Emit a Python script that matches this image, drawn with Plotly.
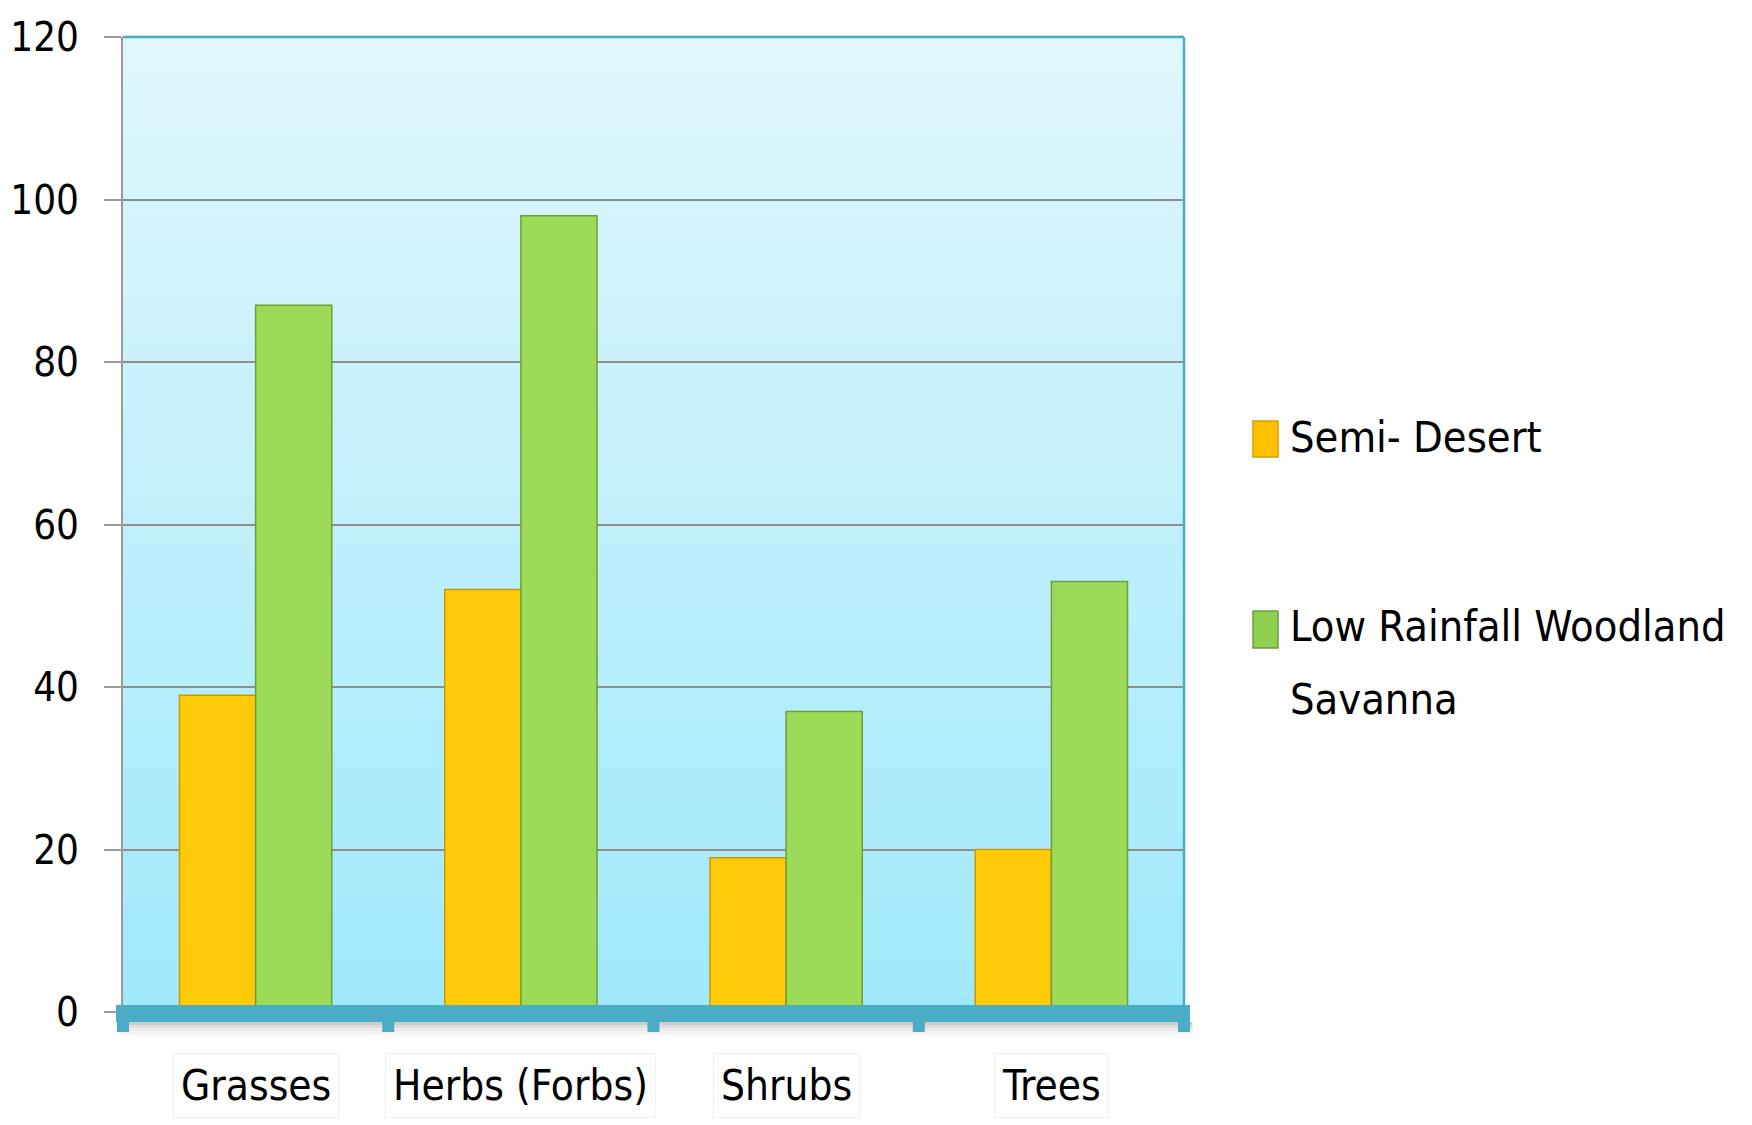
import plotly.graph_objects as go

categories = ["Grasses", "Herbs (Forbs)", "Shrubs", "Trees"]
semi_desert = [39, 52, 19, 20]
low_rainfall = [87, 98, 37, 53]
series_names = ["Semi- Desert", "Low Rainfall Woodland Savanna"]
y_ticks = [0, 20, 40, 60, 80, 100, 120]

FONT = "DejaVu Sans Condensed, DejaVu Sans, sans-serif"
TEAL = "#4BACC6"

def fnt(size):
    return dict(family=FONT, size=size, color="black")

fig = go.Figure()
fig.add_trace(go.Bar(
    x=categories, y=semi_desert, name=series_names[0],
    marker=dict(color="#FFCA08", line=dict(color="#C99A00", width=1.5)),
    showlegend=False,
))
fig.add_trace(go.Bar(
    x=categories, y=low_rainfall, name=series_names[1],
    marker=dict(color="#9CDB57", line=dict(color="#6E9E38", width=1.5)),
    showlegend=False,
))

shapes = []
# background gradient
n = 60
top_c = (224, 247, 253)
bot_c = (160, 233, 251)
for i in range(n):
    t = i / (n - 1)
    c = tuple(int(round(bot_c[k] + (top_c[k] - bot_c[k]) * t)) for k in range(3))
    shapes.append(dict(type="rect", xref="paper", yref="paper",
                       x0=0, x1=1, y0=i / n, y1=(i + 1) / n + 0.002,
                       fillcolor="rgb(%d,%d,%d)" % c, line=dict(width=0), layer="below"))
# top and right borders
shapes.append(dict(type="line", xref="paper", yref="paper", x0=0, x1=1, y0=1, y1=1,
                   line=dict(color=TEAL, width=2.5), layer="above"))
shapes.append(dict(type="line", xref="paper", yref="paper", x0=1, x1=1, y0=0, y1=1,
                   line=dict(color=TEAL, width=2.5), layer="above"))
# shadow under the base band
for k, a in enumerate([0.20, 0.13, 0.08, 0.05, 0.02]):
    shapes.append(dict(type="rect", xref="paper", yref="paper", x0=-0.004, x1=1.008,
                       ysizemode="pixel", yanchor=0, y0=-10 - 3 * (k + 1), y1=-10 - 3 * k,
                       fillcolor="rgba(0,0,0,%.2f)" % a, line=dict(width=0), layer="above"))
# base band (x axis)
shapes.append(dict(type="rect", xref="paper", yref="paper", x0=-0.0066, x1=1.0057,
                   ysizemode="pixel", yanchor=0, y0=-10, y1=7,
                   fillcolor=TEAL, line=dict(width=0), layer="above"))
# category boundary ticks
nc = len(categories)
for i in range(nc + 1):
    shapes.append(dict(type="rect", xref="paper", yref="paper",
                       xsizemode="pixel", xanchor=i / nc, x0=-6, x1=6,
                       ysizemode="pixel", yanchor=0, y0=-20, y1=0,
                       fillcolor=TEAL, line=dict(width=0), layer="above"))

annotations = []
# category labels with white boxes
for c in categories:
    annotations.append(dict(x=c, xref="x", y=0, yref="paper", yanchor="top",
                            yshift=-41, text=c, showarrow=False,
                            font=fnt(42),
                            bgcolor="white", borderpad=7,
                            bordercolor="rgba(0,0,0,0.06)", borderwidth=1))

# manual legend
ph = 1012 - 37
pw = 1184 - 123
def py(p):
    return (1012 - p) / ph
def px(p):
    return (p - 123) / pw
leg_colors = [("#FFC000", "#D9A000"), ("#8FD14F", "#6E9E38")]
leg_y = [(421, 457), (611, 648)]
for (fc, lc), (ya, yb) in zip(leg_colors, leg_y):
    shapes.append(dict(type="rect", xref="paper", yref="paper",
                       x0=px(1253), x1=px(1278), y0=py(yb), y1=py(ya),
                       fillcolor=fc, line=dict(color=lc, width=1.5)))
first, last = series_names[1].rsplit(" ", 1)
legend_lines = [(series_names[0], 437), (first, 626), (last, 699)]
for txt, yc in legend_lines:
    annotations.append(dict(x=px(1288), xref="paper", xanchor="left",
                            y=py(yc), yref="paper", yanchor="middle",
                            text=txt, showarrow=False, font=fnt(43)))

fig.update_layout(
    width=1752, height=1125,
    margin=dict(l=123, r=568, t=37, b=113, autoexpand=False),
    paper_bgcolor="white",
    plot_bgcolor="#C0EFFC",
    barmode="group",
    bargap=0.426,
    bargroupgap=0,
    font=fnt(42),
    shapes=shapes,
    annotations=annotations,
    showlegend=False,
    xaxis=dict(showticklabels=False, showgrid=False, showline=False, ticks="",
               zeroline=False, automargin=False),
    yaxis=dict(range=[0, 120], tickvals=y_ticks, showgrid=True, gridcolor="#8E8E8E",
               gridwidth=2, zeroline=False, showline=True, linecolor="#9A9A9A",
               linewidth=2, ticks="outside", ticklen=17, tickwidth=2, tickcolor="#9A9A9A",
               ticklabelstandoff=17, automargin=False,
               tickfont=fnt(40)),
)

fig.write_html("out.html")
